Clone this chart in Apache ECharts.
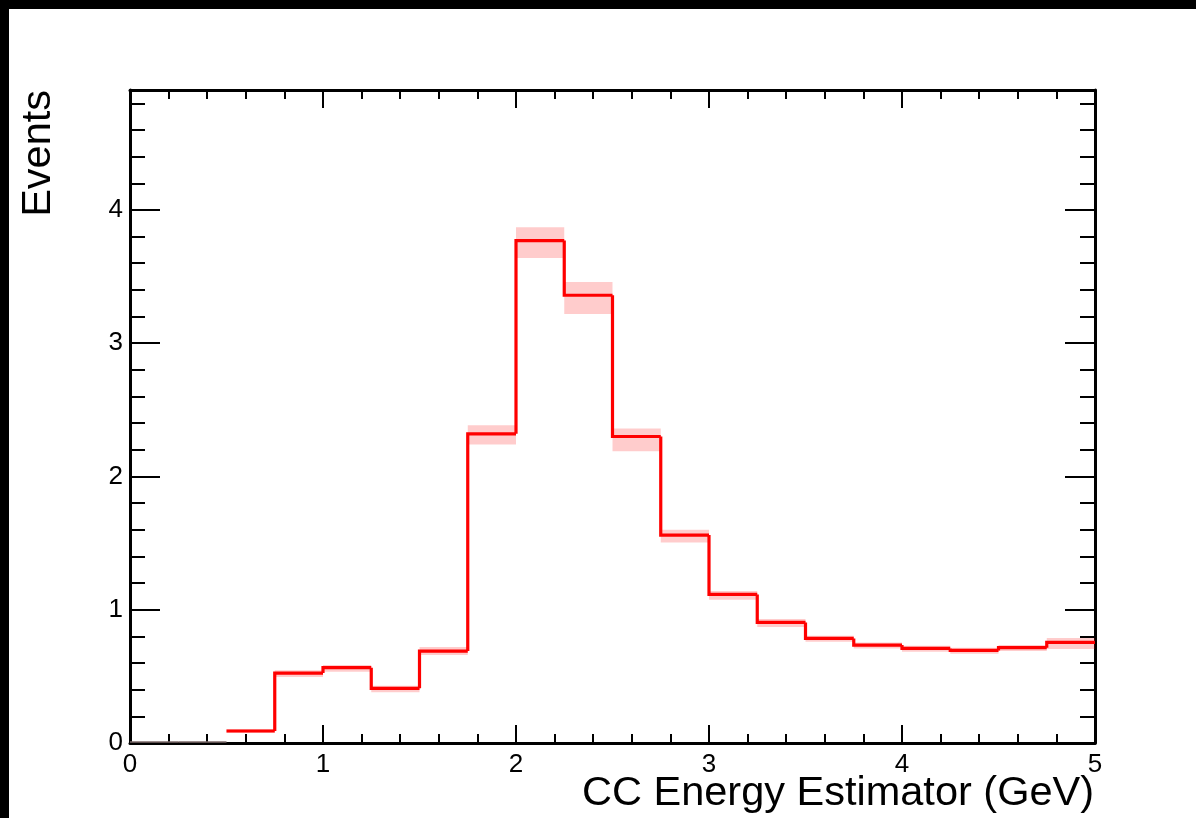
<!DOCTYPE html>
<html>
<head>
<meta charset="utf-8">
<script src="https://cdn.jsdelivr.net/npm/echarts@6/dist/echarts.min.js"></script>
<style>
html,body{margin:0;padding:0;background:#fff;}
#chart{width:1196px;height:818px;}
</style>
</head>
<body>
<div id="chart"></div>
<script>
// Bin edges (GeV)
const binEdges = [0, 0.25, 0.5, 0.75, 1.0, 1.25, 1.5, 1.75, 2.0, 2.25, 2.5, 2.75, 3.0, 3.25, 3.5, 3.75, 4.0, 4.25, 4.5, 4.75, 5.0];
// Events per bin
const counts = [0, 0, 0.09, 0.525, 0.565, 0.41, 0.69, 2.32, 3.77, 3.36, 2.30, 1.56, 1.115, 0.905, 0.785, 0.735, 0.71, 0.695, 0.715, 0.755];
// Error band (low / high)
const bandLow = [0, 0, 0.075, 0.495, 0.535, 0.38, 0.66, 2.24, 3.64, 3.22, 2.19, 1.505, 1.075, 0.87, 0.76, 0.71, 0.685, 0.67, 0.69, 0.705];
const bandHigh = [0, 0, 0.105, 0.545, 0.585, 0.43, 0.72, 2.385, 3.87, 3.46, 2.36, 1.60, 1.14, 0.93, 0.805, 0.755, 0.73, 0.715, 0.735, 0.788];
const xTitle = 'CC Energy Estimator (GeV)';
const yTitle = 'Events';

const FONT = "'Liberation Sans', Arial, Helvetica, sans-serif";

const histData = counts.map((v, i) => [binEdges[i], binEdges[i + 1], v, i > 0 ? counts[i - 1] : 0, bandLow[i], bandHigh[i]]);

const chart = echarts.init(document.getElementById('chart'), null, {renderer: 'canvas'});

function xAxisDef(pos, showLabel) {
  return {
    type: 'value', position: pos, min: 0, max: 5, interval: 1,
    axisLine: {show: true, onZero: false, lineStyle: {color: '#000', width: 3}},
    axisTick: {show: true, inside: true, length: 18, lineStyle: {color: '#000', width: 2}},
    minorTick: {show: true, splitNumber: 5, length: 9, lineStyle: {color: '#000', width: 2}},
    splitLine: {show: false}, minorSplitLine: {show: false},
    axisLabel: {show: showLabel, color: '#000', fontSize: 26, fontFamily: FONT, margin: 9,
      showMinLabel: true, showMaxLabel: true}
  };
}
function yAxisDef(pos, interval, tickLen, showLine, showLabel) {
  return {
    type: 'value', position: pos, min: 0, max: 4.9, interval: interval,
    axisLine: {show: showLine, onZero: false, lineStyle: {color: '#000', width: 3}},
    axisTick: {show: true, inside: true, length: tickLen, lineStyle: {color: '#000', width: 2}},
    splitLine: {show: false},
    axisLabel: {show: showLabel, color: '#000', fontSize: 26, fontFamily: FONT, margin: 7,
      showMaxLabel: false,
      formatter: v => (Math.abs(v - Math.round(v)) < 1e-6 ? String(Math.round(v)) : '')}
  };
}

const option = {
  backgroundColor: '#fff',
  animation: false,
  grid: {left: 130, right: 101, top: 90, bottom: 75, containLabel: false},
  xAxis: [xAxisDef('bottom', true), xAxisDef('top', false)],
  yAxis: [
    yAxisDef('left', 1, 30, true, true),
    yAxisDef('left', 0.2, 15, false, false),
    yAxisDef('right', 1, 30, true, false),
    yAxisDef('right', 0.2, 15, false, false)
  ],
  graphic: [
    {type: 'rect', left: 0, top: 0, shape: {width: 1196, height: 9}, style: {fill: '#000'}, z: 100},
    {type: 'rect', left: 0, top: 0, shape: {width: 9, height: 818}, style: {fill: '#000'}, z: 100},
    {type: 'text', x: 1094, y: 815, z: 100,
      style: {text: xTitle, font: '41.5px ' + FONT, fill: '#000', textAlign: 'right', textVerticalAlign: 'bottom'}},
    {type: 'text', x: 60, y: 90, rotation: Math.PI / 2, z: 100,
      style: {text: yTitle, font: '41.5px ' + FONT, fill: '#000', textAlign: 'right', textVerticalAlign: 'bottom'}}
  ],
  series: [
    {
      type: 'custom', name: 'band', xAxisIndex: 0, yAxisIndex: 0, z: 2,
      data: histData,
      encode: {x: [0, 1], y: [2, 4, 5]},
      renderItem: function (params, api) {
        const lo = api.value(0), hi = api.value(1), v = api.value(2);
        if (v === 0) return null;
        const p1 = api.coord([lo, api.value(5)]);
        const p2 = api.coord([hi, api.value(4)]);
        return {type: 'rect', shape: {x: p1[0], y: p1[1], width: p2[0] - p1[0], height: p2[1] - p1[1]},
          style: {fill: 'rgba(255,0,0,0.2)'}};
      }
    },
    {
      type: 'custom', name: 'hist', xAxisIndex: 0, yAxisIndex: 0, z: 3,
      data: histData,
      encode: {x: [0, 1], y: [2]},
      renderItem: function (params, api) {
        const lo = api.value(0), hi = api.value(1), v = api.value(2), prev = api.value(3);
        const a = api.coord([lo, v]);
        const b = api.coord([hi, v]);
        if (v === 0) {
          return {type: 'line', shape: {x1: a[0], y1: a[1] - 1, x2: b[0], y2: b[1] - 1},
            style: {stroke: '#7d6a6a', lineWidth: 1.5}};
        }
        const pts = [];
        if (prev !== 0) pts.push(api.coord([lo, prev]));
        pts.push(a, b);
        return {type: 'polyline', shape: {points: pts},
          style: {stroke: '#ff0000', lineWidth: 3.2, fill: null, lineJoin: 'miter'}};
      }
    }
  ]
};
chart.setOption(option);
</script>
</body>
</html>
